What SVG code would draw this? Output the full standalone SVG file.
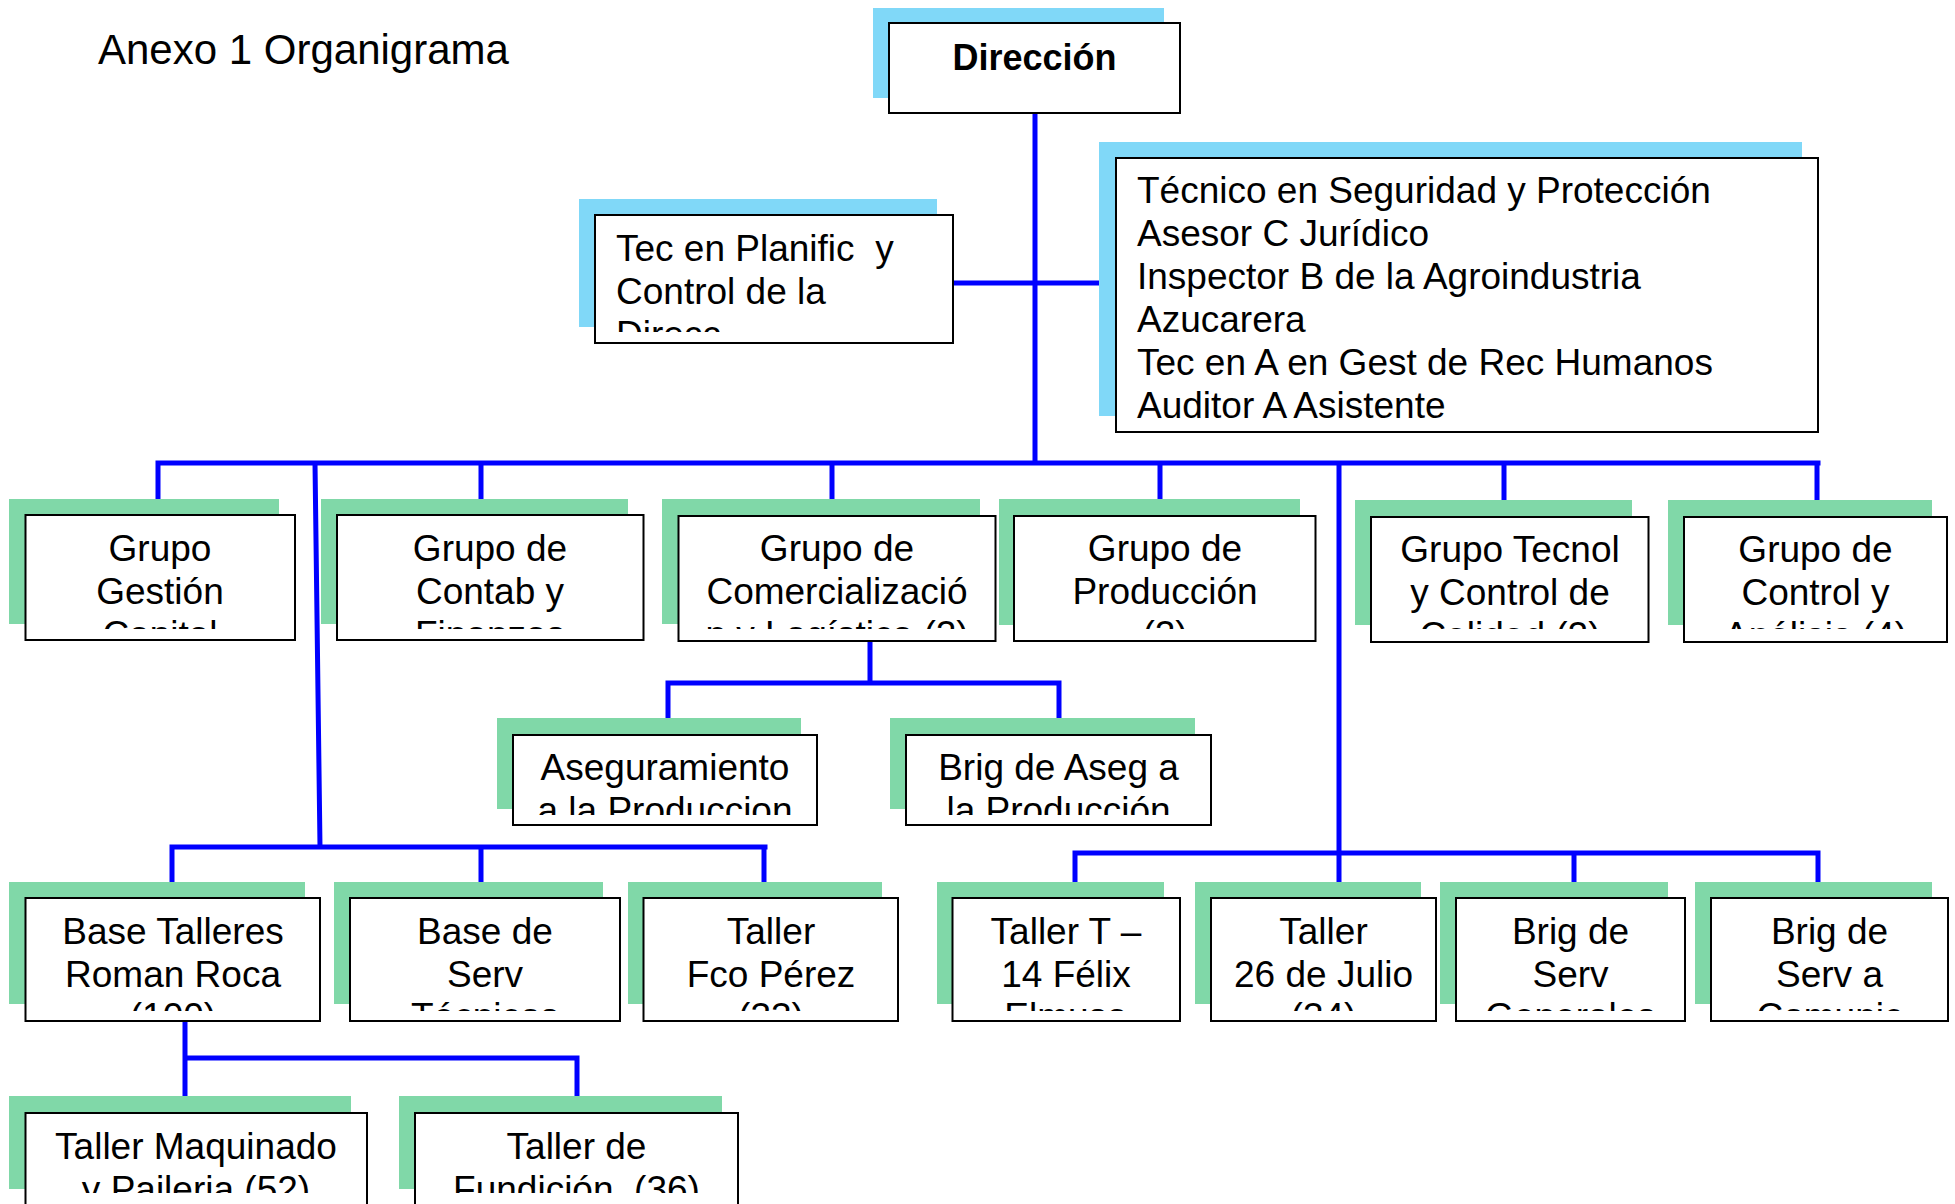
<svg xmlns="http://www.w3.org/2000/svg" width="1955" height="1204" viewBox="0 0 1955 1204">
<style>
text{font-family:"Liberation Sans",Arial,sans-serif;font-size:37px;fill:#000}
.t{font-size:42px}
.b{font-weight:bold;font-size:36px}
.c{text-anchor:middle}
.p{white-space:pre}
.box{fill:#fff;stroke:#000;stroke-width:2}
.sb{fill:#80D8F8}
.sg{fill:#80D8A8}
.ln{stroke:#0000FF;stroke-width:5;fill:none;stroke-linecap:square}
</style>
<defs>
<clipPath id="cT" clipPathUnits="userSpaceOnUse"><rect x="0" y="200" width="1955" height="132"/></clipPath>
<clipPath id="c1" clipPathUnits="userSpaceOnUse"><rect x="0" y="500" width="1955" height="129"/></clipPath>
<clipPath id="c2" clipPathUnits="userSpaceOnUse"><rect x="0" y="720" width="1955" height="95"/></clipPath>
<clipPath id="c3" clipPathUnits="userSpaceOnUse"><rect x="0" y="885" width="1955" height="126"/></clipPath>
<clipPath id="c4" clipPathUnits="userSpaceOnUse"><rect x="0" y="1095" width="1955" height="98"/></clipPath>
</defs>
<rect width="1955" height="1204" fill="#fff"/>
<text class="t" x="98" y="64">Anexo 1 Organigrama</text>

<g id="connectors">
<path class="ln" d="M1035 113V463M953 283H1116M158 463H1818M158 463V514M481 463V514M832 463V515M1160 463V515M1504 463V517M1817 463V517M315 463L320 847M1339 463V898M870 641V683M668 683H1059M668 683V735M1059 683V735M172 847H765M172 847V898M481 847V898M764 847V898M1075 853H1818M1075 853V898M1574 853V898M1818 853V898M185 1021V1113M185 1058H577M577 1058V1113"/>
</g>

<g id="direccion">
<rect class="sb" x="873" y="8" width="291" height="90"/>
<rect class="box" x="889" y="23" width="291" height="90"/>
<text class="b c" x="1034.5" y="70">Dirección</text>
</g>

<g id="tec-planific">
<rect class="sb" x="579" y="199" width="358" height="128"/>
<rect class="box" x="595" y="215" width="358" height="128"/>
<g clip-path="url(#cT)">
<text class="p" x="616" y="261">Tec en Planific  y</text>
<text x="616" y="304">Control de la</text>
<text x="616" y="347">Direcc</text>
</g>
</g>

<g id="asesores">
<rect class="sb" x="1099" y="142" width="703" height="274"/>
<rect class="box" x="1116" y="158" width="702" height="274"/>
<text x="1137" y="203">Técnico en Seguridad y Protección</text>
<text x="1137" y="246">Asesor C Jurídico</text>
<text x="1137" y="289">Inspector B de la Agroindustria</text>
<text x="1137" y="332">Azucarera</text>
<text x="1137" y="375">Tec en A en Gest de Rec Humanos</text>
<text x="1137" y="418">Auditor A Asistente</text>
</g>

<g id="grupo-gestion">
<rect class="sg" x="9" y="499" width="270" height="125"/>
<rect class="box" x="25.5" y="515" width="269.5" height="125"/>
<g clip-path="url(#c1)"><text class="c" x="160" y="561">Grupo</text><text class="c" x="160" y="604">Gestión</text><text class="c" x="160" y="647">Capital</text></g>
</g>

<g id="grupo-contab">
<rect class="sg" x="321" y="499" width="307" height="125"/>
<rect class="box" x="337" y="515" width="306.5" height="125"/>
<g clip-path="url(#c1)"><text class="c" x="490" y="561">Grupo de</text><text class="c" x="490" y="604">Contab y</text><text class="c" x="490" y="647">Finanzas</text></g>
</g>

<g id="grupo-comercializacion">
<rect class="sg" x="662" y="499" width="318" height="125"/>
<rect class="box" x="678.5" y="516" width="317" height="125"/>
<g clip-path="url(#c1)"><text class="c" x="837" y="561">Grupo de</text><text class="c" x="837" y="604">Comercializació</text><text class="c" x="837" y="647">n y Logística (2)</text></g>
</g>

<g id="grupo-produccion">
<rect class="sg" x="999" y="499" width="301" height="126"/>
<rect class="box" x="1014" y="516" width="301.5" height="125"/>
<g clip-path="url(#c1)"><text class="c" x="1165" y="561">Grupo de</text><text class="c" x="1165" y="604">Producción</text><text class="c" x="1165" y="647">(2)</text></g>
</g>

<g id="grupo-tecnol">
<rect class="sg" x="1355" y="500" width="277" height="125"/>
<rect class="box" x="1371" y="517" width="277.5" height="125"/>
<g clip-path="url(#c1)"><text class="c" x="1510" y="562">Grupo Tecnol</text><text class="c" x="1510" y="605">y Control de</text><text class="c" x="1510" y="648">Calidad (2)</text></g>
</g>

<g id="grupo-control">
<rect class="sg" x="1668" y="500" width="264" height="125"/>
<rect class="box" x="1684" y="517" width="263" height="125"/>
<g clip-path="url(#c1)"><text class="c" x="1815.5" y="562">Grupo de</text><text class="c" x="1815.5" y="605">Control y</text><text class="c" x="1815.5" y="648">Análisis (4)</text></g>
</g>

<g id="aseguramiento">
<rect class="sg" x="497" y="718" width="304" height="91"/>
<rect class="box" x="513" y="735" width="304" height="90"/>
<g clip-path="url(#c2)"><text class="c" x="665" y="780">Aseguramiento</text><text class="c" x="665" y="823">a la Produccion</text></g>
</g>

<g id="brig-aseg">
<rect class="sg" x="890" y="718" width="305" height="91"/>
<rect class="box" x="906" y="735" width="305" height="90"/>
<g clip-path="url(#c2)"><text class="c" x="1058.5" y="780">Brig de Aseg a</text><text class="c" x="1058.5" y="823">la Producción</text></g>
</g>

<g id="base-talleres">
<rect class="sg" x="9" y="882" width="296" height="122"/>
<rect class="box" x="25.5" y="898" width="294.5" height="123"/>
<g clip-path="url(#c3)"><text class="c" x="173" y="944">Base Talleres</text><text class="c" x="173" y="987">Roman Roca</text><text class="c" x="173" y="1029">(100)</text></g>
</g>

<g id="base-serv">
<rect class="sg" x="334" y="882" width="269" height="122"/>
<rect class="box" x="350" y="898" width="270" height="123"/>
<g clip-path="url(#c3)"><text class="c" x="485" y="944">Base de</text><text class="c" x="485" y="987">Serv</text><text class="c" x="485" y="1029">Técnicos</text></g>
</g>

<g id="taller-fco">
<rect class="sg" x="628" y="882" width="254" height="122"/>
<rect class="box" x="643.5" y="898" width="254.5" height="123"/>
<g clip-path="url(#c3)"><text class="c" x="771" y="944">Taller</text><text class="c" x="771" y="987">Fco Pérez</text><text class="c" x="771" y="1029">(33)</text></g>
</g>

<g id="taller-t14">
<rect class="sg" x="937" y="882" width="227" height="122"/>
<rect class="box" x="952.5" y="898" width="227.5" height="123"/>
<g clip-path="url(#c3)"><text class="c" x="1066" y="944">Taller T –</text><text class="c" x="1066" y="987">14 Félix</text><text class="c" x="1066" y="1029">Elmusa</text></g>
</g>

<g id="taller-26">
<rect class="sg" x="1195" y="882" width="226" height="122"/>
<rect class="box" x="1211" y="898" width="225" height="123"/>
<g clip-path="url(#c3)"><text class="c" x="1323.5" y="944">Taller</text><text class="c" x="1323.5" y="987">26 de Julio</text><text class="c" x="1323.5" y="1029">(34)</text></g>
</g>

<g id="brig-serv-gen">
<rect class="sg" x="1440" y="882" width="228" height="122"/>
<rect class="box" x="1456" y="898" width="229" height="123"/>
<g clip-path="url(#c3)"><text class="c" x="1570.5" y="944">Brig de</text><text class="c" x="1570.5" y="987">Serv</text><text class="c" x="1570.5" y="1029">Generales</text></g>
</g>

<g id="brig-serv-com">
<rect class="sg" x="1695" y="882" width="237" height="122"/>
<rect class="box" x="1711" y="898" width="237" height="123"/>
<g clip-path="url(#c3)"><text class="c" x="1829.5" y="944">Brig de</text><text class="c" x="1829.5" y="987">Serv a</text><text class="c" x="1829.5" y="1029">Comunic</text></g>
</g>

<g id="taller-maquinado">
<rect class="sg" x="9" y="1096" width="342" height="93"/>
<rect class="box" x="25.5" y="1113" width="341.5" height="110"/>
<g clip-path="url(#c4)"><text class="c" x="196" y="1159">Taller Maquinado</text><text class="c" x="196" y="1202">y Paileria (52)</text></g>
</g>

<g id="taller-fundicion">
<rect class="sg" x="399" y="1096" width="323" height="93"/>
<rect class="box" x="415" y="1113" width="323" height="110"/>
<g clip-path="url(#c4)"><text class="c" x="576.5" y="1159">Taller de</text><text class="c p" x="576.5" y="1202">Fundición  (36)</text></g>
</g>
</svg>
